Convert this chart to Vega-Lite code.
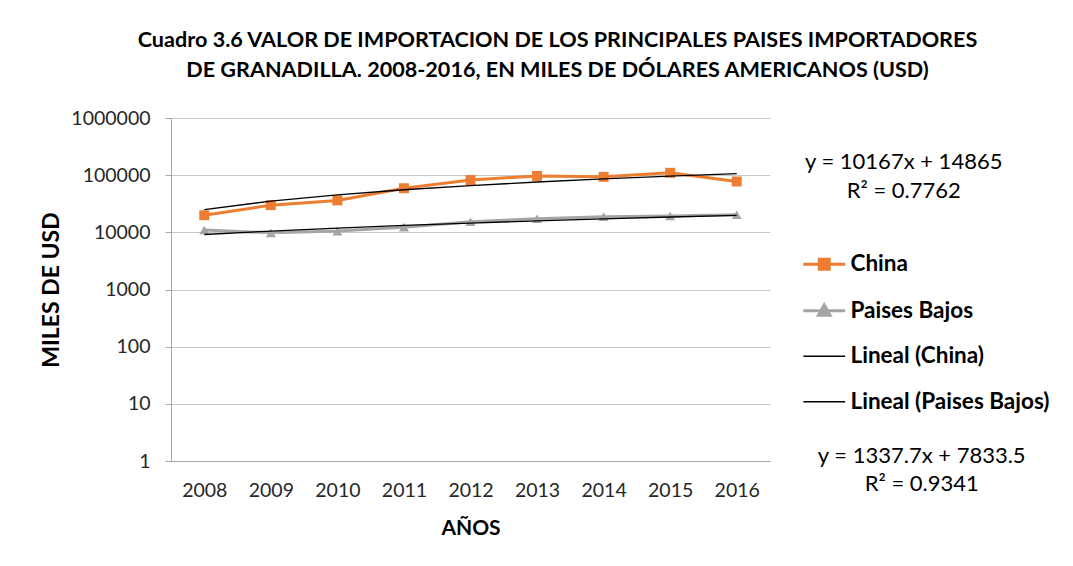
{
  "$schema": "https://vega.github.io/schema/vega-lite/v6.json",
  "width": 599,
  "height": 343,
  "autosize": {"type": "none"},
  "padding": {"left": 171, "top": 118, "right": 303, "bottom": 105},
  "background": "white",
  "title": {
    "text": ["Cuadro 3.6 VALOR DE IMPORTACION DE LOS PRINCIPALES PAISES IMPORTADORES", "DE GRANADILLA. 2008-2016, EN MILES DE DÓLARES AMERICANOS (USD)"],
    "font": "Lato", "fontSize": 21.6, "fontWeight": "bold", "color": "#000000",
    "lineHeight": 30, "anchor": "middle", "frame": "group", "dx": 87, "offset": 26
  },
  "datasets": {
    "series": [
      {"anio": "2008", "serie": "China", "valor": 19900},
      {"anio": "2009", "serie": "China", "valor": 29900},
      {"anio": "2010", "serie": "China", "valor": 36200},
      {"anio": "2011", "serie": "China", "valor": 59000},
      {"anio": "2012", "serie": "China", "valor": 82000},
      {"anio": "2013", "serie": "China", "valor": 97000},
      {"anio": "2014", "serie": "China", "valor": 93400},
      {"anio": "2015", "serie": "China", "valor": 110000},
      {"anio": "2016", "serie": "China", "valor": 77500},
      {"anio": "2008", "serie": "Paises Bajos", "valor": 11000},
      {"anio": "2009", "serie": "Paises Bajos", "valor": 9800},
      {"anio": "2010", "serie": "Paises Bajos", "valor": 10500},
      {"anio": "2011", "serie": "Paises Bajos", "valor": 12300},
      {"anio": "2012", "serie": "Paises Bajos", "valor": 15300},
      {"anio": "2013", "serie": "Paises Bajos", "valor": 17300},
      {"anio": "2014", "serie": "Paises Bajos", "valor": 18800},
      {"anio": "2015", "serie": "Paises Bajos", "valor": 19300},
      {"anio": "2016", "serie": "Paises Bajos", "valor": 20300}
    ],
    "trend": [
      {"anio": "2008", "serie": "Lineal (China)", "valor": 25032},
      {"anio": "2009", "serie": "Lineal (China)", "valor": 35199},
      {"anio": "2010", "serie": "Lineal (China)", "valor": 45366},
      {"anio": "2011", "serie": "Lineal (China)", "valor": 55533},
      {"anio": "2012", "serie": "Lineal (China)", "valor": 65700},
      {"anio": "2013", "serie": "Lineal (China)", "valor": 75867},
      {"anio": "2014", "serie": "Lineal (China)", "valor": 86034},
      {"anio": "2015", "serie": "Lineal (China)", "valor": 96201},
      {"anio": "2016", "serie": "Lineal (China)", "valor": 106368},
      {"anio": "2008", "serie": "Lineal (Paises Bajos)", "valor": 9171.2},
      {"anio": "2009", "serie": "Lineal (Paises Bajos)", "valor": 10508.9},
      {"anio": "2010", "serie": "Lineal (Paises Bajos)", "valor": 11846.6},
      {"anio": "2011", "serie": "Lineal (Paises Bajos)", "valor": 13184.3},
      {"anio": "2012", "serie": "Lineal (Paises Bajos)", "valor": 14522},
      {"anio": "2013", "serie": "Lineal (Paises Bajos)", "valor": 15859.7},
      {"anio": "2014", "serie": "Lineal (Paises Bajos)", "valor": 17197.4},
      {"anio": "2015", "serie": "Lineal (Paises Bajos)", "valor": 18535.1},
      {"anio": "2016", "serie": "Lineal (Paises Bajos)", "valor": 19872.8}
    ],
    "eqs": [
      {"anio": "2016", "serie": "Lineal (China)", "valor": 106368, "texto": "y = 10167x + 14865\nR² = 0.7762"},
      {"anio": "2016", "serie": "Lineal (Paises Bajos)", "valor": 19872.8, "texto": "y = 1337.7x + 7833.5\nR² = 0.9341"}
    ]
  },
  "encoding": {
    "x": {
      "field": "anio", "type": "ordinal",
      "scale": {"type": "point", "padding": 0.5},
      "axis": {
        "title": "AÑOS", "labelAngle": 0, "ticks": false, "grid": false,
        "labelFont": "Lato", "labelFontSize": 19.5, "labelColor": "#262626", "labelPadding": 20,
        "titleFont": "Lato", "titleFontSize": 21, "titleFontWeight": "bold", "titleColor": "#000000", "titlePadding": 18,
        "domainColor": "#A6A6A6", "domainWidth": 1
      }
    },
    "y": {
      "field": "valor", "type": "quantitative",
      "scale": {"type": "log", "domain": [1, 1000000], "nice": false},
      "axis": {
        "title": "MILES DE USD", "values": [1, 10, 100, 1000, 10000, 100000, 1000000], "format": "d",
        "grid": true, "gridColor": "#C8C8C8", "gridWidth": 1,
        "tickSize": 6, "tickColor": "#A6A6A6", "domainColor": "#A6A6A6",
        "labelFont": "Lato", "labelFontSize": 19.5, "labelColor": "#262626", "labelPadding": 15,
        "titleFont": "Lato", "titleFontSize": 23, "titleFontWeight": "bold", "titleColor": "#000000", "titlePadding": 7
      }
    }
  },
  "layer": [
    {
      "data": {"name": "series"},
      "mark": {"type": "line", "strokeWidth": 3},
      "encoding": {
        "color": {
          "field": "serie", "type": "nominal",
          "scale": {"domain": ["China", "Paises Bajos", "Lineal (China)", "Lineal (Paises Bajos)"], "range": ["#ED7D31", "#A5A5A5", "#000000", "#000000"]},
          "legend": {
            "orient": "none", "legendX": 642, "legendY": 135, "title": null,
            "symbolType": "stroke", "symbolSize": 2025, "symbolStrokeWidth": 3,
            "labelFont": "Lato", "labelFontSize": 22.5, "labelFontWeight": "bold", "labelColor": "#000000",
            "labelOffset": 15, "rowPadding": 22.5, "labelLimit": 300,
            "encode": {
              "symbols": {
                "update": {
                  "shape": {"signal": "datum.value === 'China' ? 'M-0.93,0H0.93M-0.22,-0.22H0.22V0.22H-0.22Z' : datum.value === 'Paises Bajos' ? 'M-0.93,0H0.93M0,-0.26L0.26,0.2H-0.26Z' : 'M-0.93,0H0.93'"},
                  "fill": {"signal": "datum.value === 'China' ? '#ED7D31' : datum.value === 'Paises Bajos' ? '#A5A5A5' : 'transparent'"},
                  "strokeWidth": {"signal": "datum.value === 'China' || datum.value === 'Paises Bajos' ? 3 : 1.3"}
                }
              }
            }
          }
        }
      }
    },
    {
      "data": {"name": "series"},
      "mark": {"type": "point", "filled": true, "opacity": 1, "size": 100},
      "encoding": {
        "color": {"field": "serie", "type": "nominal"},
        "shape": {
          "field": "serie", "type": "nominal",
          "scale": {"domain": ["China", "Paises Bajos"], "range": ["square", "triangle-up"]},
          "legend": null
        }
      }
    },
    {
      "data": {"name": "trend"},
      "mark": {"type": "line", "strokeWidth": 1.3},
      "encoding": {
        "color": {"field": "serie", "type": "nominal"}
      }
    },
    {
      "data": {"name": "eqs"},
      "transform": [{"filter": "datum.serie === 'Lineal (China)'"}],
      "mark": {"type": "text", "font": "Lato", "fontSize": 22, "color": "#000000", "align": "center", "baseline": "middle", "lineBreak": "\n", "lineHeight": 29.5, "dx": 167, "dy": -12},
      "encoding": {"text": {"field": "texto", "type": "nominal"}}
    },
    {
      "data": {"name": "eqs"},
      "transform": [{"filter": "datum.serie === 'Lineal (Paises Bajos)'"}],
      "mark": {"type": "text", "font": "Lato", "fontSize": 22, "color": "#000000", "align": "center", "baseline": "middle", "lineBreak": "\n", "lineHeight": 28.5, "dx": 185, "dy": 240.7},
      "encoding": {"text": {"field": "texto", "type": "nominal"}}
    }
  ],
  "config": {
    "view": {"stroke": null}
  }
}
